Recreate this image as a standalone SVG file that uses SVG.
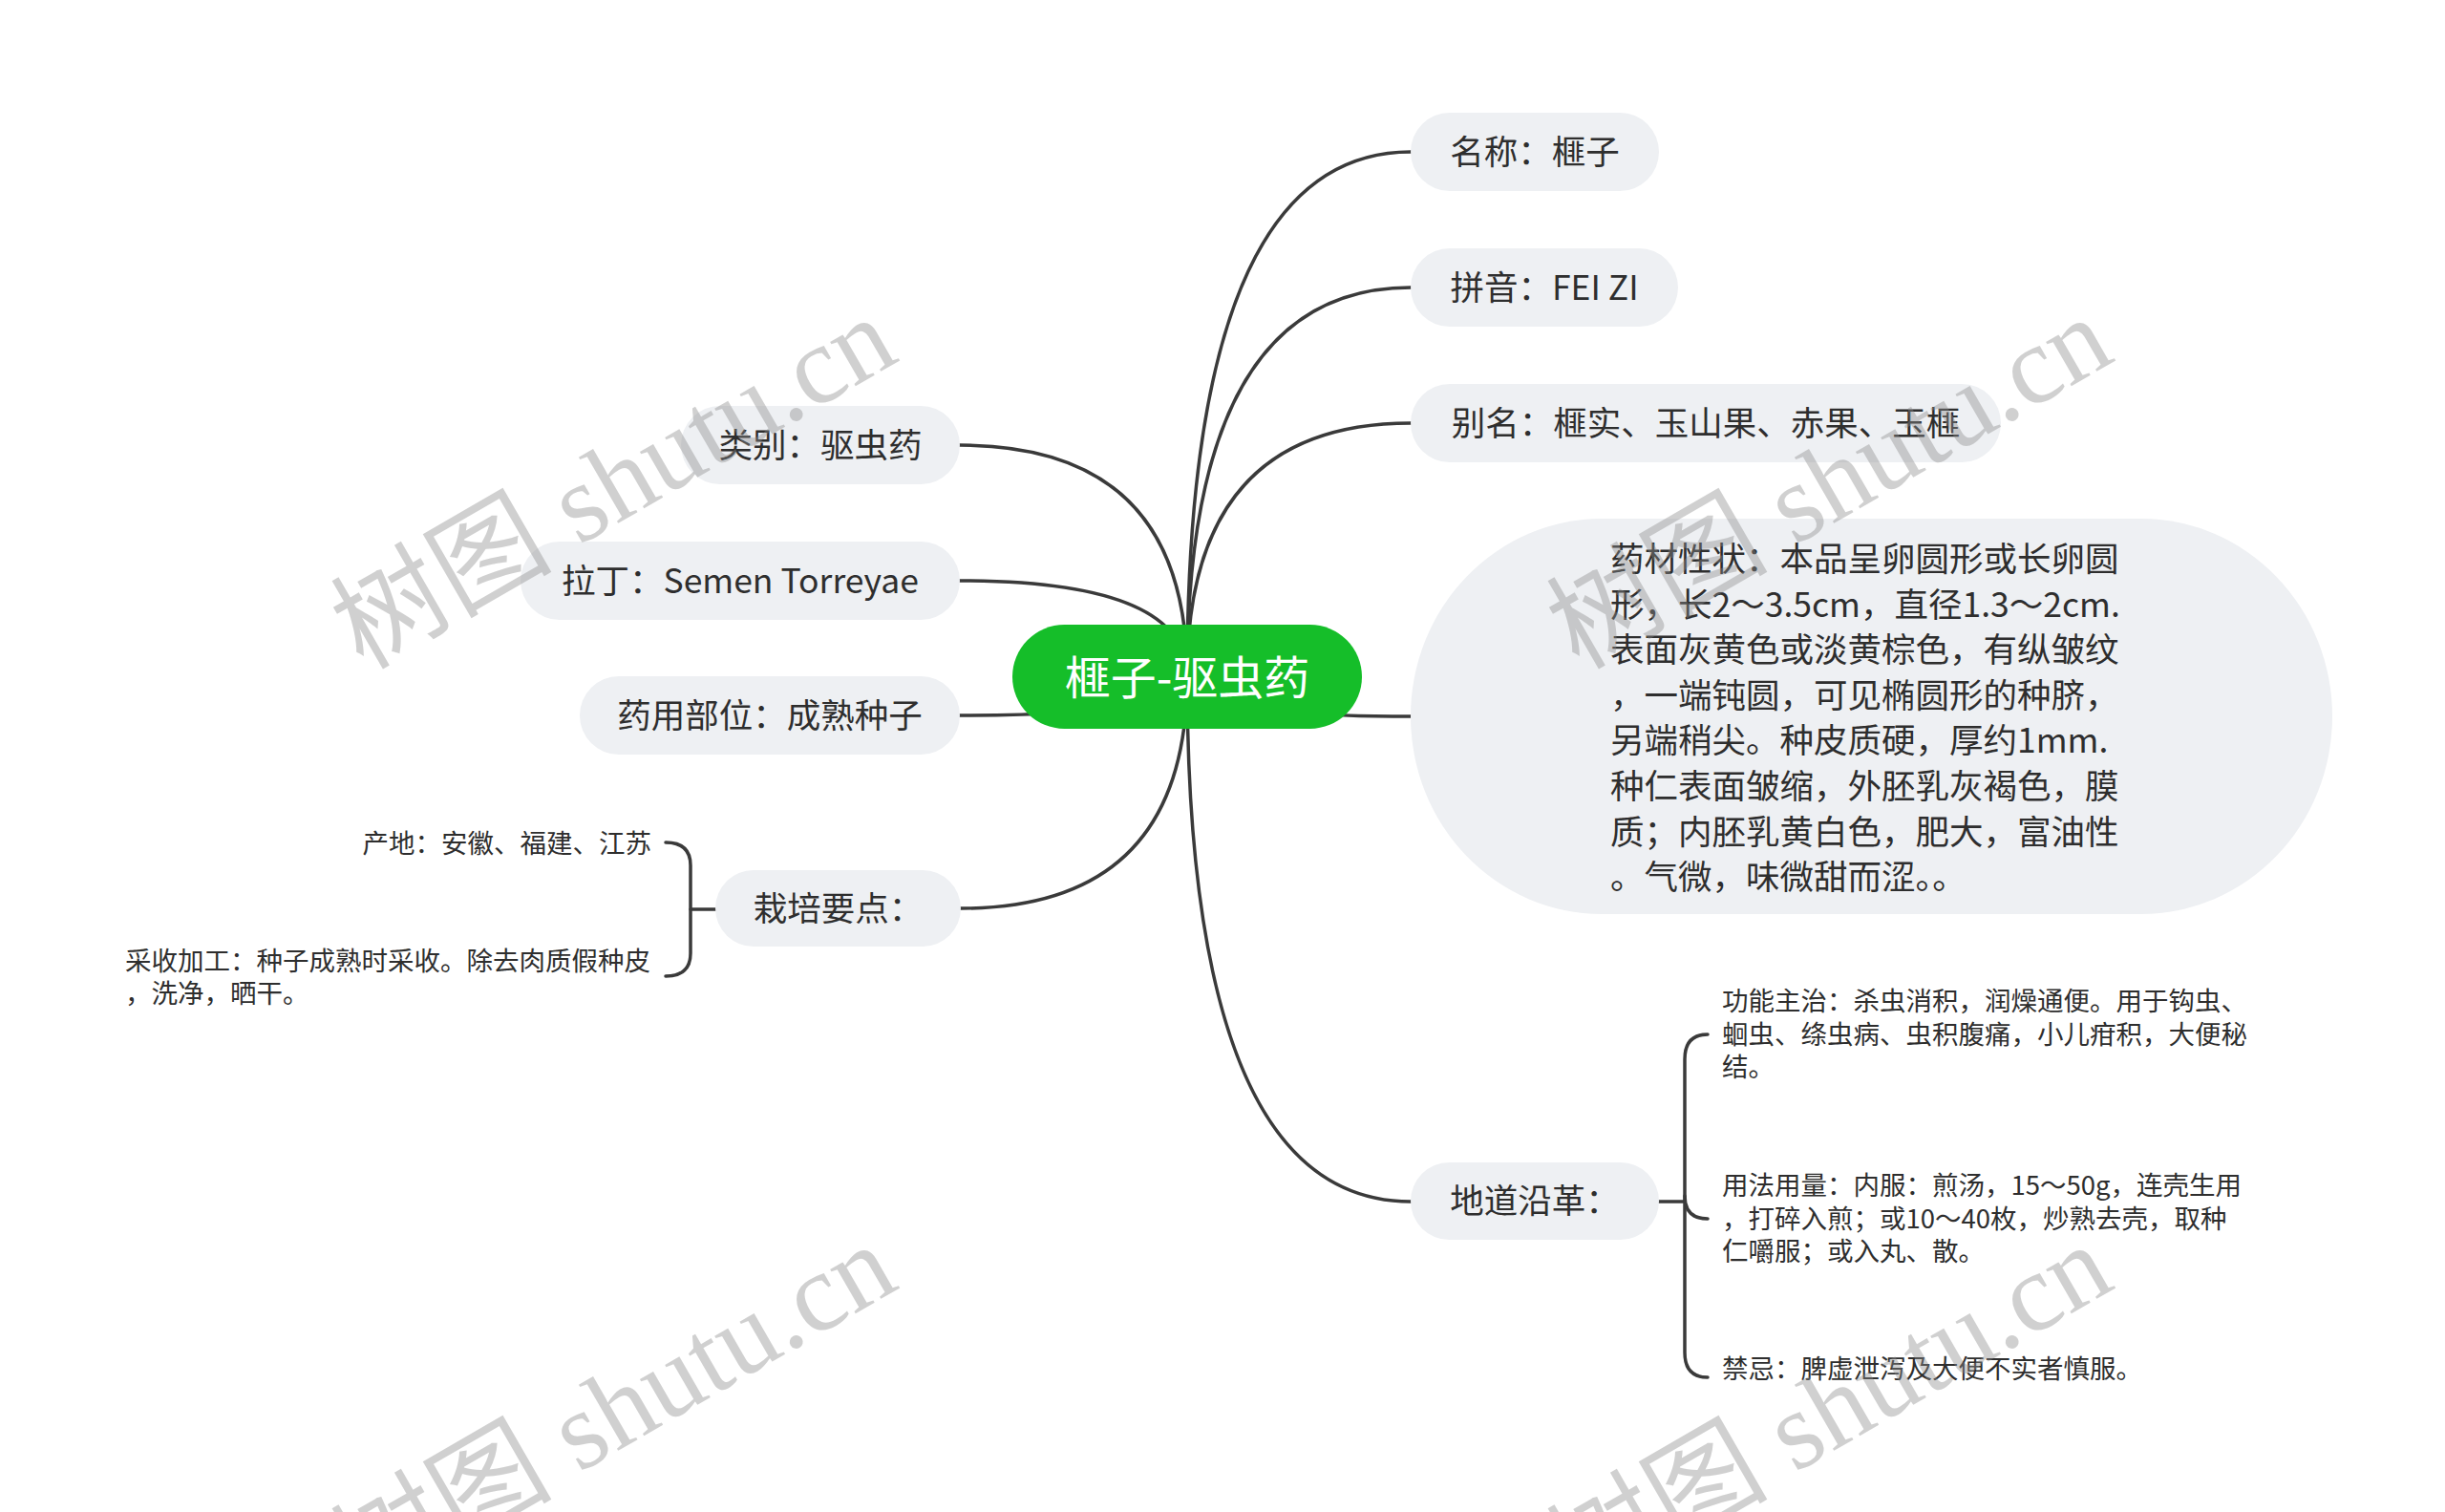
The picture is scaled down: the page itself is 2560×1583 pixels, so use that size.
<svg xmlns="http://www.w3.org/2000/svg" width="2560" height="1583" viewBox="0 0 2560 1583">
<style>
.conn{fill:none;stroke:#3a3a3a;stroke-width:3.5;stroke-linecap:round}
.node{fill:#eef0f3}
.t{font-family:"Noto Sans CJK SC","Noto Sans",sans-serif;fill:#2e2e2e}
.m{font-size:35.5px}
.s{font-size:27.5px}
.wm{font-family:"Liberation Serif","Noto Sans CJK SC",serif;font-size:116px;fill:#8c8c8c;opacity:0.4}
</style>
<rect width="2560" height="1583" fill="#ffffff"/>
<g id="connectors">
<path class="conn" d="M1243 708 Q1243 159 1477 159"/>
<path class="conn" d="M1243 708 Q1243 301 1477 301"/>
<path class="conn" d="M1243 708 Q1243 443 1477 443"/>
<path class="conn" d="M1243 708 Q1243 750 1477 750"/>
<path class="conn" d="M1243 708 Q1243 1258 1477 1258"/>
<path class="conn" d="M1243 708 Q1243 466 1005 466"/>
<path class="conn" d="M1243 708 Q1243 608 1005 608"/>
<path class="conn" d="M1243 708 Q1243 749 1005 749"/>
<path class="conn" d="M1243 708 Q1243 951 1006 951"/>
<path class="conn" d="M749 952 L723 952"/>
<path class="conn" d="M697 882 Q723 882 723 906 L723 998 Q723 1022 697 1022"/>
<path class="conn" d="M1737 1258 L1764 1258"/>
<path class="conn" d="M1788 1083 Q1764 1083 1764 1109 L1764 1416 Q1764 1442 1788 1442"/>
<path class="conn" d="M1764 1252 Q1764 1276 1788 1276"/>
</g>
<g id="root">
<rect x="1060" y="654" width="366" height="109" rx="54.5" fill="#15be29"/>
<text class="t" x="1243" y="727" font-size="48" text-anchor="middle" style="fill:#ffffff">榧子-驱虫药</text>
</g>
<g id="n-name">
<rect class="node" x="1477" y="118" width="260" height="82" rx="41"/>
<text class="t m" x="1607" y="172" text-anchor="middle">名称：榧子</text>
</g>
<g id="n-pinyin">
<rect class="node" x="1477" y="260" width="280" height="82" rx="41"/>
<text class="t m" x="1617" y="314" text-anchor="middle">拼音：FEI ZI</text>
</g>
<g id="n-alias">
<rect class="node" x="1477" y="402" width="618" height="82" rx="41"/>
<text class="t m" x="1786" y="456" text-anchor="middle">别名：榧实、玉山果、赤果、玉榧</text>
</g>
<g id="n-desc">
<rect class="node" x="1477" y="543" width="965" height="414" rx="200" ry="207"/>
<text class="t m" x="1686" y="598">
<tspan x="1686" y="598">药材性状：本品呈卵圆形或长卵圆</tspan>
<tspan x="1686" y="645.6">形，长2～3.5cm，直径1.3～2cm.</tspan>
<tspan x="1686" y="693.2">表面灰黄色或淡黄棕色，有纵皱纹</tspan>
<tspan x="1686" y="740.8">，一端钝圆，可见椭圆形的种脐，</tspan>
<tspan x="1686" y="788.4">另端稍尖。种皮质硬，厚约1mm.</tspan>
<tspan x="1686" y="836">种仁表面皱缩，外胚乳灰褐色，膜</tspan>
<tspan x="1686" y="883.6">质；内胚乳黄白色，肥大，富油性</tspan>
<tspan x="1686" y="931.2">。气微，味微甜而涩。。</tspan>
</text>
</g>
<g id="n-origin">
<rect class="node" x="1477" y="1217" width="260" height="81" rx="40.5"/>
<text class="t m" x="1607" y="1270" text-anchor="middle">地道沿革：</text>
</g>
<g id="n-func">
<text class="t s">
<tspan x="1803" y="1058">功能主治：杀虫消积，润燥通便。用于钩虫、</tspan>
<tspan x="1803" y="1092.5">蛔虫、绦虫病、虫积腹痛，小儿疳积，大便秘</tspan>
<tspan x="1803" y="1127">结。</tspan>
</text>
</g>
<g id="n-usage">
<text class="t s">
<tspan x="1803" y="1251">用法用量：内服：煎汤，15～50g，连壳生用</tspan>
<tspan x="1803" y="1285.7">，打碎入煎；或10～40枚，炒熟去壳，取种</tspan>
<tspan x="1803" y="1320.4">仁嚼服；或入丸、散。</tspan>
</text>
</g>
<g id="n-taboo">
<text class="t s" x="1803" y="1443">禁忌：脾虚泄泻及大便不实者慎服。</text>
</g>
<g id="n-category">
<rect class="node" x="713" y="425" width="292" height="82" rx="41"/>
<text class="t m" x="859" y="479" text-anchor="middle">类别：驱虫药</text>
</g>
<g id="n-latin">
<rect class="node" x="545" y="567" width="460" height="82" rx="41"/>
<text class="t m" x="775" y="621" text-anchor="middle">拉丁：Semen Torreyae</text>
</g>
<g id="n-part">
<rect class="node" x="607" y="708" width="398" height="82" rx="41"/>
<text class="t m" x="806" y="762" text-anchor="middle">药用部位：成熟种子</text>
</g>
<g id="n-cultivation">
<rect class="node" x="749" y="911" width="257" height="80" rx="40"/>
<text class="t m" x="877.5" y="964" text-anchor="middle">栽培要点：</text>
</g>
<g id="n-place">
<text class="t s" x="682" y="893" text-anchor="end">产地：安徽、福建、江苏</text>
</g>
<g id="n-harvest">
<text class="t s">
<tspan x="131" y="1016">采收加工：种子成熟时采收。除去肉质假种皮</tspan>
<tspan x="131" y="1050">，洗净，晒干。</tspan>
</text>
</g>
<g id="watermarks">
<text class="wm" transform="translate(380 702) rotate(-30)">树图 shutu.cn</text>
<text class="wm" transform="translate(1653 702) rotate(-30)">树图 shutu.cn</text>
<text class="wm" transform="translate(380 1673) rotate(-30)">树图 shutu.cn</text>
<text class="wm" transform="translate(1653 1673) rotate(-30)">树图 shutu.cn</text>
</g>
</svg>
